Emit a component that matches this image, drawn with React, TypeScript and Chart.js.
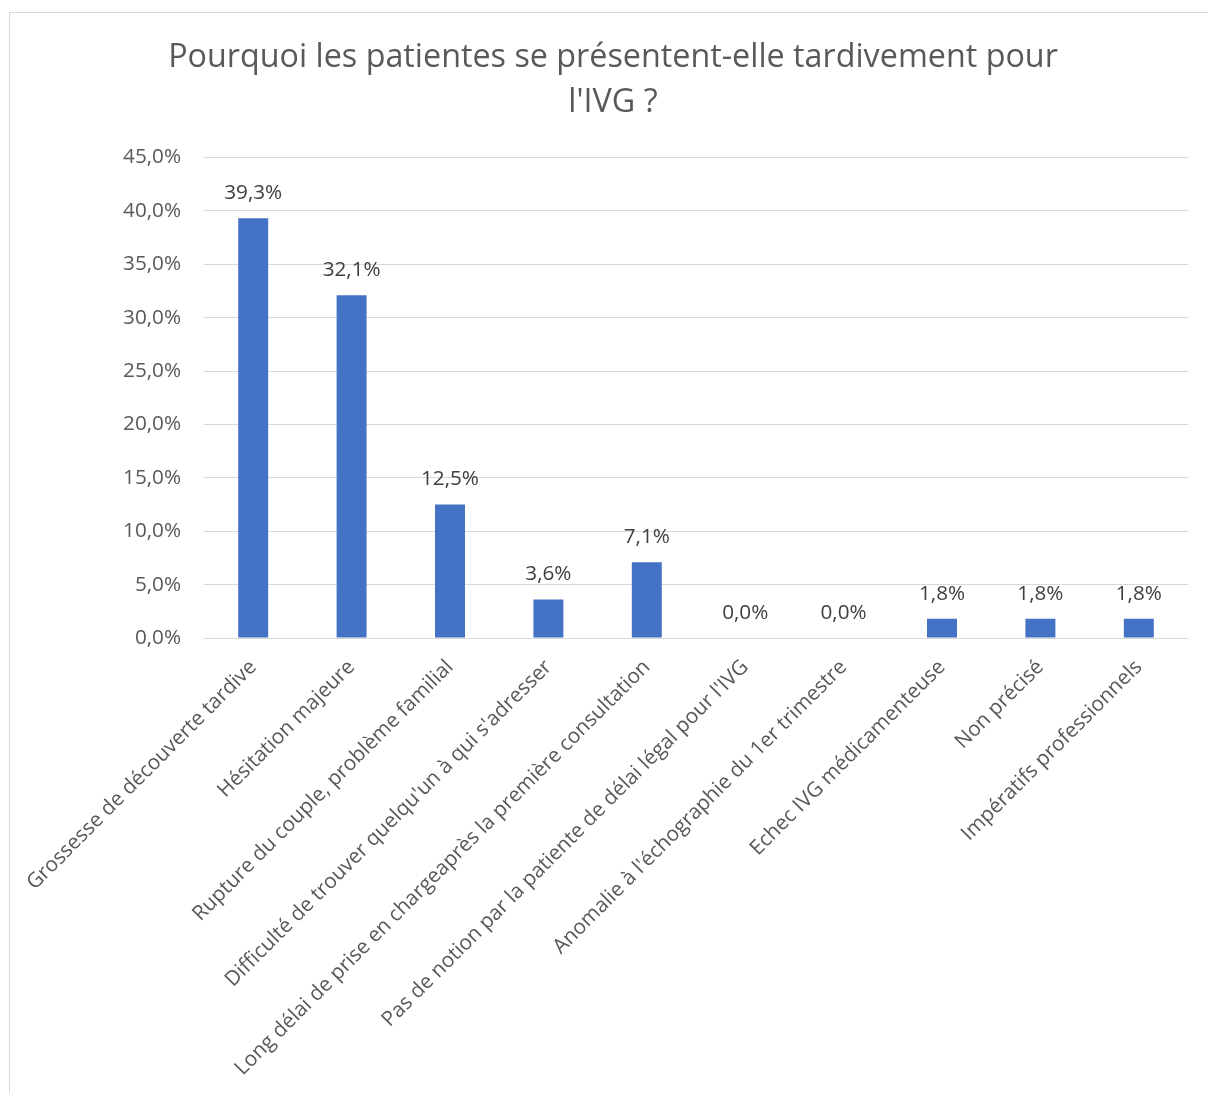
import React, { useEffect, useRef } from "react";
import { Chart, registerables } from "chart.js";

Chart.register(...registerables);

const categories = [
  "Grossesse de découverte tardive",
  "Hésitation majeure",
  "Rupture du couple, problème familial",
  "Difficulté de trouver quelqu'un à qui s'adresser",
  "Long délai de prise en chargeaprès la première consultation",
  "Pas de notion par la patiente de délai légal pour l'IVG",
  "Anomalie à l'échographie du 1er trimestre",
  "Echec IVG médicamenteuse",
  "Non précisé",
  "Impératifs professionnels",
];

const values = [39.3, 32.1, 12.5, 3.6, 7.1, 0.0, 0.0, 1.8, 1.8, 1.8];

const titleLines = [
  "Pourquoi les patientes se présentent-elle tardivement pour",
  "l'IVG ?",
];

const yMin = 0;
const yMax = 45;
const yStep = 5;

const FONT = '"Open Sans", "Noto Sans", sans-serif';
const TEXT_SIZE = 20.7;

const fmt = (v: number) => v.toFixed(1).replace(".", ",") + "%";

const valueLabels = {
  id: "valueLabels",
  afterDatasetsDraw(chart: any) {
    const { ctx } = chart;
    const meta = chart.getDatasetMeta(0);
    ctx.save();
    ctx.font = `${TEXT_SIZE}px ${FONT}`;
    ctx.fillStyle = "#404040";
    ctx.textAlign = "center";
    ctx.textBaseline = "middle";
    meta.data.forEach((bar: any, i: number) => {
      ctx.fillText(fmt(values[i]), bar.x, bar.y - 25);
    });
    ctx.restore();
  },
};

export default function App() {
  const ref = useRef<HTMLCanvasElement | null>(null);

  useEffect(() => {
    if (!ref.current) return;
    const chart = new Chart(ref.current, {
      type: "bar",
      data: {
        labels: categories,
        datasets: [
          {
            data: values,
            backgroundColor: "#4472C4",
            borderWidth: 0,
            barPercentage: 0.381,
            categoryPercentage: 0.8,
          },
        ],
      },
      plugins: [valueLabels],
      options: {
        responsive: false,
        animation: false,
        devicePixelRatio: 1,
        layout: { padding: { left: 38, right: 20, top: 0, bottom: 0 } },
        plugins: {
          legend: { display: false },
          tooltip: { enabled: false },
          title: {
            display: true,
            text: titleLines,
            color: "#595959",
            font: { family: FONT, size: 32.3, weight: "normal", lineHeight: 1.37 },
            padding: { top: 36, bottom: 33 },
          },
        },
        scales: {
          x: {
            grid: { display: false },
            border: { display: false },
            ticks: {
              autoSkip: false,
              minRotation: 45,
              maxRotation: 45,
              color: "#595959",
              font: { family: FONT, size: TEXT_SIZE },
              padding: 9,
            },
            afterFit: (scale: any) => {
              scale.height = 455;
              scale.paddingLeft = 0;
              scale.paddingRight = 0;
            },
          },
          y: {
            min: yMin,
            max: yMax,
            border: { display: false },
            grid: { color: "#D9D9D9", lineWidth: 1, drawTicks: false },
            ticks: {
              stepSize: yStep,
              color: "#595959",
              font: { family: FONT, size: TEXT_SIZE },
              padding: 23,
              callback: (v: any) => fmt(Number(v)),
            },
            afterFit: (scale: any) => {
              scale.width = 166;
            },
          },
        },
      },
    });
    return () => chart.destroy();
  }, []);

  return (
    <div
      style={{
        position: "fixed",
        left: 0,
        top: 0,
        width: 1208,
        height: 1093,
        overflow: "hidden",
        background: "#fff",
      }}
    >
      <div
        style={{
          position: "absolute",
          left: 9,
          top: 12,
          width: 1300,
          height: 1200,
          borderLeft: "1px solid #D9D9D9",
          borderTop: "1px solid #D9D9D9",
        }}
      />
      <canvas
        ref={ref}
        width={1208}
        height={1093}
        style={{ position: "absolute", left: 0, top: 0, display: "block" }}
      />
    </div>
  );
}
